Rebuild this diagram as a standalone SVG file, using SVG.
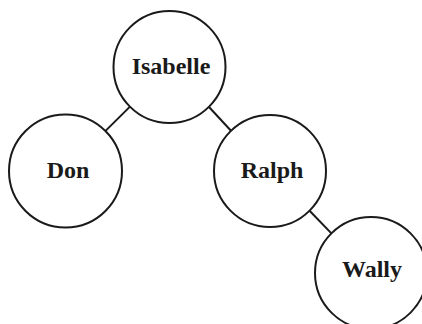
<svg xmlns="http://www.w3.org/2000/svg" width="422" height="324" viewBox="0 0 422 324">
<style>
.node circle{fill:#fff;stroke:#1a1a1a;stroke-width:2}
.node text{font-family:"Liberation Serif","Times New Roman",serif;font-weight:bold;font-size:24px;fill:#1a1a1a;text-anchor:middle}
.edges line{stroke:#1a1a1a;stroke-width:2}
</style>
<rect width="422" height="324" fill="#fff"/>
<g id="connectors" class="edges">
<line x1="130" y1="106.6" x2="105" y2="131.4"/>
<line x1="209" y1="107" x2="231" y2="130.8"/>
<line x1="309.6" y1="210.8" x2="331.4" y2="233.4"/>
</g>
<g id="isabelle" class="node"><circle cx="169.5" cy="67" r="56"/><text x="171" y="74">Isabelle</text></g>
<g id="don" class="node"><circle cx="65.5" cy="171" r="56.5"/><text x="68" y="178">Don</text></g>
<g id="ralph" class="node"><circle cx="270" cy="171" r="56"/><text x="272" y="178">Ralph</text></g>
<g id="wally" class="node"><circle cx="371" cy="273" r="56"/><text x="372" y="277">Wally</text></g>
</svg>
